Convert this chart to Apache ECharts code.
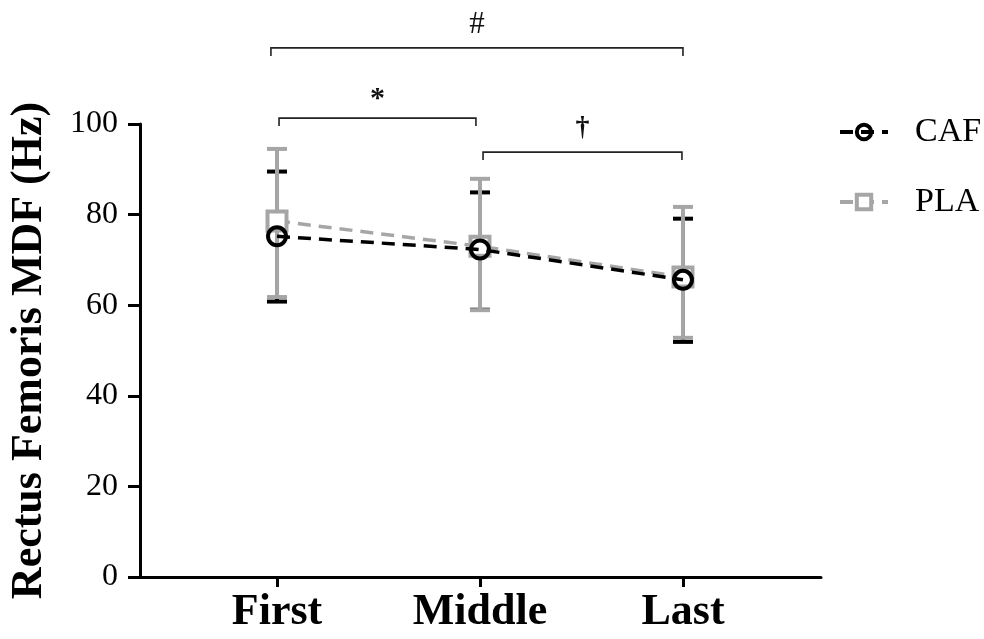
<!DOCTYPE html>
<html>
<head>
<meta charset="utf-8">
<script src="https://cdn.jsdelivr.net/npm/echarts@6/dist/echarts.min.js"></script>
<style>
html,body{margin:0;padding:0;background:#fff;}
#chart{width:984px;height:639px;}
</style>
</head>
<body>
<div id="chart"></div>
<script>
// ---- data ----
const categories = ['First', 'Middle', 'Last'];
const cafMean  = [75.2, 72.3, 65.6];
const cafUpper = [89.5, 84.9, 79.1];
const cafLower = [60.8, 59.0, 51.9];
const plaMean  = [78.6, 73.0, 66.2];
const plaUpper = [94.5, 87.9, 81.7];
const plaLower = [61.8, 58.9, 52.8];
const yTicks = [0, 20, 40, 60, 80, 100];
// significance brackets: [from category index, to category index, level (Hz), mark]
const bracketFrom  = [0.97, 1.01, 2.015];
const bracketTo    = [3.0, 1.98, 2.995];
const bracketLevel = [116.8, 101.3, 93.8];
const bracketMarks = ['#', '*', '\u2020'];

const SERIF = "'Liberation Serif','Times New Roman',serif";
const GRAY = '#a6a6a6';

const xPos = categories.map((c, i) => i + 1);
const cafData = xPos.map((x, i) => [x, cafMean[i]]);
const plaData = xPos.map((x, i) => [x, plaMean[i]]);
const cafErr = xPos.map((x, i) => [x, cafLower[i], cafUpper[i]]);
const plaErr = xPos.map((x, i) => [x, plaLower[i], plaUpper[i]]);
const brData = bracketFrom.map((f, i) => [f, bracketTo[i], bracketLevel[i], bracketMarks[i]]);

function errRender(color) {
  return function (params, api) {
    const x = api.value(0);
    const lo = api.coord([x, api.value(1)]);
    const hi = api.coord([x, api.value(2)]);
    const cw = 10;
    const st = { stroke: color, lineWidth: 4, fill: null };
    return {
      type: 'group',
      children: [
        { type: 'line', shape: { x1: lo[0], y1: lo[1], x2: hi[0], y2: hi[1] }, style: st },
        { type: 'line', shape: { x1: hi[0] - cw, y1: hi[1], x2: hi[0] + cw, y2: hi[1] }, style: st },
        { type: 'line', shape: { x1: lo[0] - cw, y1: lo[1], x2: lo[0] + cw, y2: lo[1] }, style: st }
      ]
    };
  };
}

const markFont = { '#': '31px ', '*': 'bold 30px ', '\u2020': 'bold 28px ' };
const markGap = { '#': 8, '*': 4, '\u2020': 10 };

function bracketRender(params, api) {
  const p1 = api.coord([api.value(0), api.value(2)]);
  const p2 = api.coord([api.value(1), api.value(2)]);
  const d = 8;
  const mark = brData[params.dataIndex][3];
  return {
    type: 'group',
    children: [
      { type: 'polyline', shape: { points: [[p1[0], p1[1] + d], [p1[0], p1[1]], [p2[0], p2[1]], [p2[0], p2[1] + d]] },
        style: { stroke: '#222', lineWidth: 1.6, fill: null } },
      { type: 'text', x: (p1[0] + p2[0]) / 2, y: p1[1] - markGap[mark],
        style: { text: mark, fill: '#111', font: markFont[mark] + SERIF,
                 align: 'center', verticalAlign: 'bottom' } }
    ]
  };
}

const chart = echarts.init(document.getElementById('chart'), null, { renderer: 'canvas' });
chart.setOption({
  animation: false,
  backgroundColor: '#fff',
  grid: { left: 140, right: 163, top: 124, bottom: 62, containLabel: false, outerBoundsMode: 'none' },
  xAxis: {
    type: 'value', min: 0.325, max: 3.68,
    axisLine: { show: true, onZero: false, lineStyle: { color: '#000', width: 3 } },
    axisTick: { show: true, customValues: xPos, length: 10, lineStyle: { color: '#000', width: 3 } },
    axisLabel: { customValues: xPos, formatter: v => categories[Math.round(v) - 1] || '',
                 margin: 14, color: '#000', fontFamily: SERIF, fontWeight: 'bold', fontSize: 44 },
    splitLine: { show: false }
  },
  yAxis: {
    type: 'value', min: yTicks[0], max: yTicks[yTicks.length - 1], interval: 20,
    name: 'Rectus Femoris MDF (Hz)', nameLocation: 'middle', nameGap: 88,
    nameTextStyle: { color: '#000', fontFamily: SERIF, fontWeight: 'bold', fontSize: 44 },
    axisLine: { show: true, lineStyle: { color: '#000', width: 3 } },
    axisTick: { show: true, length: 12, lineStyle: { color: '#000', width: 3 } },
    axisLabel: { margin: 22, color: '#000', fontFamily: SERIF, fontSize: 32 },
    splitLine: { show: false }
  },
  legend: {
    orient: 'vertical', left: 833, top: 109, itemWidth: 48, itemHeight: 18, itemGap: 34,
    lineStyle: { width: 4 },
    itemStyle: { borderWidth: 4 },
    textStyle: { color: '#000', fontFamily: SERIF, fontSize: 34, lineHeight: 36, padding: [0, 0, 0, 22] },
    data: ['CAF', 'PLA']
  },
  series: [
    { type: 'custom', name: 'cafErr', renderItem: errRender('#000'), data: cafErr, z: 1,
      encode: { x: 0, y: [1, 2] }, silent: true },
    { type: 'custom', name: 'plaErr', renderItem: errRender(GRAY), data: plaErr, z: 2,
      encode: { x: 0, y: [1, 2] }, silent: true },
    { type: 'line', name: 'PLA', data: plaData, z: 3, symbol: 'rect', symbolSize: 19,
      lineStyle: { color: GRAY, width: 3.5, type: [13, 8] },
      itemStyle: { color: '#fff', borderColor: GRAY, borderWidth: 4 } },
    { type: 'line', name: 'CAF', data: cafData, z: 4, symbol: 'circle', symbolSize: 18,
      lineStyle: { color: '#000', width: 3.5, type: [13, 8] },
      itemStyle: { color: 'rgba(255,255,255,0)', borderColor: '#000', borderWidth: 4 } },
    { type: 'custom', name: 'brackets', renderItem: bracketRender, data: brData, clip: false,
      encode: { x: [0, 1], y: 2 }, silent: true, z: 5 }
  ]
});
</script>
</body>
</html>
